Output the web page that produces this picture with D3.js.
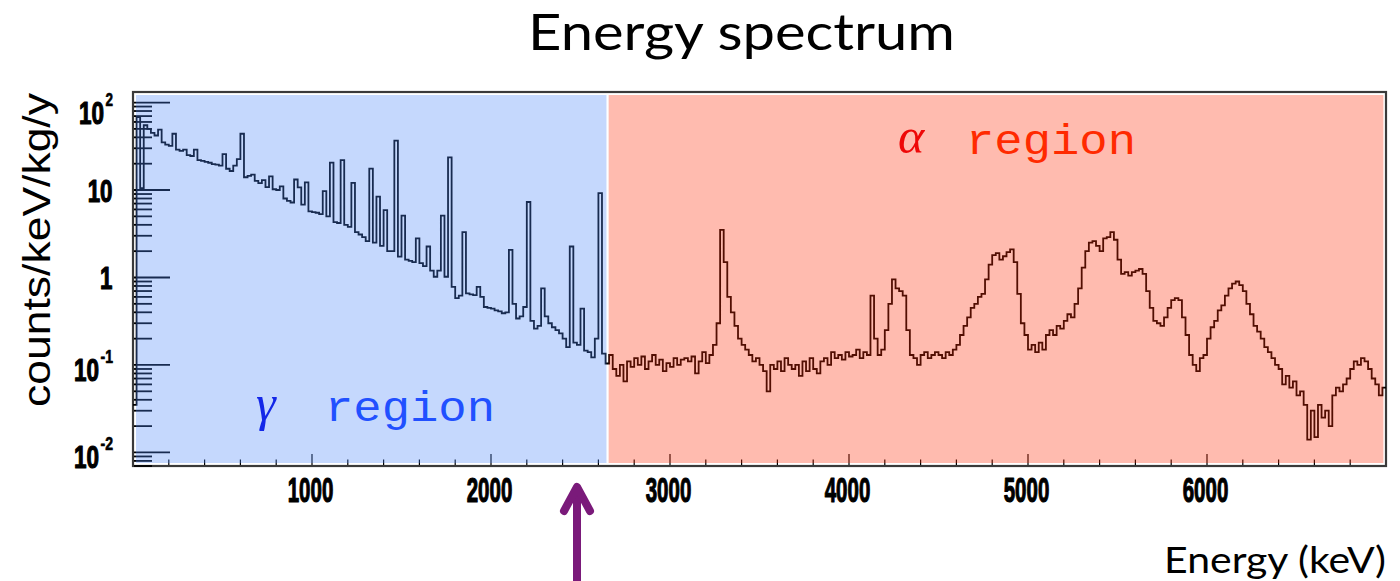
<!DOCTYPE html>
<html>
<head>
<meta charset="utf-8">
<script src="https://cdn.jsdelivr.net/npm/d3@7"></script>
<style>
  html, body { margin: 0; padding: 0; background: #fff; }
  svg { display: block; }
</style>
</head>
<body>
<svg id="chart" width="1400" height="581"></svg>
<script>
// Energy spectrum, counts/keV/kg/y in 20 keV bins.
const binWidth = 20;

// γ region: bins starting at 0 keV
const gammaStart = 0;
const gammaCounts = [
  0.035, 68, 10.5, 55, 50, 45, 42, 49, 35, 33,
  32, 44, 29, 28, 29, 25, 24.5, 29, 22, 21.5,
  21, 20.5, 19.8, 19.5, 19, 25.7, 17.5, 16.5, 19, 22.6,
  44, 14, 14.5, 15, 12.7, 12, 13, 10.8, 14.3, 10.2,
  10, 11, 8, 7.5, 7.2, 13.2, 10.7, 6.8, 12.2, 5.7,
  5.6, 5.5, 5.3, 9.7, 5.0, 20.6, 4.3, 4.2, 22, 4.0,
  3.8, 12.1, 3.3, 3.1, 2.9, 2.6, 17.6, 2.5, 8.4, 2.3,
  5.9, 2.0, 2.0, 36.7, 1.73, 5.1, 1.6, 1.55, 1.5, 2.8,
  1.46, 1.35, 2.26, 1.2, 1.02, 1.2, 5.1, 1.02, 23.6, 0.78,
  0.58, 0.62, 3.3, 0.66, 0.64, 0.63, 0.78, 0.6, 0.46, 0.45,
  0.44, 0.42, 0.41, 0.39, 0.4, 2.07, 0.5, 0.34, 0.36, 0.46,
  7.3, 0.32, 0.26, 0.28, 0.75, 0.36, 0.3, 0.27, 0.25, 0.23,
  0.2, 0.16, 2.26, 0.18, 0.17, 0.44, 0.146, 0.14, 0.122, 0.2,
  9.2, 0.135, 0.104
];

// α region: bins starting at 2660 keV
const alphaStart = 2660;
const alphaCounts = [
  0.13, 0.09, 0.075, 0.1, 0.065, 0.11, 0.095, 0.12, 0.1, 0.125,
  0.09, 0.11, 0.13, 0.1, 0.115, 0.085, 0.105, 0.095, 0.12, 0.1,
  0.115, 0.12, 0.11, 0.125, 0.08, 0.11, 0.14, 0.105, 0.13, 0.17,
  0.3, 3.5, 1.5, 0.6, 0.4, 0.28, 0.2, 0.17, 0.15, 0.13,
  0.11, 0.12, 0.1, 0.085, 0.05, 0.1, 0.09, 0.11, 0.085, 0.12,
  0.1, 0.09, 0.1, 0.075, 0.11, 0.085, 0.12, 0.09, 0.08, 0.11,
  0.12, 0.1, 0.14, 0.12, 0.13, 0.115, 0.14, 0.125, 0.13, 0.15,
  0.12, 0.14, 0.13, 0.62, 0.2, 0.13, 0.15, 0.25, 0.5, 0.95,
  0.75, 0.7, 0.62, 0.25, 0.13, 0.12, 0.1, 0.13, 0.14, 0.12,
  0.13, 0.14, 0.13, 0.12, 0.14, 0.13, 0.15, 0.17, 0.22, 0.28,
  0.35, 0.45, 0.5, 0.6, 0.65, 0.95, 1.4, 1.8, 1.9, 1.6,
  1.75, 1.95, 2.1, 1.5, 0.65, 0.3, 0.22, 0.15, 0.17, 0.14,
  0.18, 0.15, 0.22, 0.25, 0.22, 0.28, 0.26, 0.32, 0.38, 0.35,
  0.5, 0.75, 1.3, 2.0, 2.5, 2.6, 2.3, 2.0, 2.8, 2.9,
  3.3, 2.7, 1.6, 1.1, 1.15, 1.05, 1.15, 1.2, 1.25, 1.1,
  0.7, 0.45, 0.32, 0.3, 0.28, 0.35, 0.45, 0.55, 0.58, 0.55,
  0.35, 0.22, 0.13, 0.1, 0.085, 0.12, 0.13, 0.2, 0.27, 0.32,
  0.42, 0.48, 0.62, 0.75, 0.85, 0.9, 0.82, 0.7, 0.5, 0.38,
  0.28, 0.24, 0.2, 0.16, 0.14, 0.12, 0.1, 0.09, 0.06, 0.075,
  0.055, 0.065, 0.045, 0.05, 0.035, 0.014, 0.03, 0.015, 0.035, 0.025,
  0.03, 0.02, 0.045, 0.055, 0.05, 0.06, 0.07, 0.09, 0.11, 0.1,
  0.12, 0.11, 0.09, 0.07, 0.06, 0.045, 0.055
];

// Region boundaries (keV) and their labels
const regionEdges = [0, 2650, 7000];
const regionSymbols = ["γ", "α"];
const regionWords = ["region", "region"];

// Axes
const energyDomain = [0, 7000];
const countDomain = [0.007, 132];
const xTickLabels = [1000, 2000, 3000, 4000, 5000, 6000];
const yTickLabels = [100, 10, 1, 0.1, 0.01];

// ---------------------------------------------------------------
const svg = d3.select("#chart");
const plot = { left: 133, right: 1386, top: 92, bottom: 466 };

const x = d3.scaleLinear().domain(energyDomain).range([plot.left, plot.right]);
const y = d3.scaleLog().domain(countDomain).range([plot.bottom, plot.top]);

const bins = gammaCounts.map((v, i) => ({ e: gammaStart + i * binWidth, v }))
  .concat(alphaCounts.map((v, i) => ({ e: alphaStart + i * binWidth, v })));
const steps = bins.concat([{ e: energyDomain[1], v: bins[bins.length - 1].v }]);

// Place a text at (px, py) squeezed horizontally to a given width
function condensed(parent, str, px, py, width, opts) {
  const g = parent.append("g");
  const t = g.append("text")
    .attr("text-anchor", opts.anchor || "start")
    .attr("font-family", opts.family)
    .attr("font-weight", opts.weight || "normal")
    .attr("font-size", opts.size)
    .attr("fill", opts.fill || "#000")
    .text(str);
  if (opts.outline) {
    t.attr("stroke", opts.fill || "#000").attr("stroke-width", opts.outline)
      .attr("stroke-linejoin", "round");
  }
  const natural = t.node().getComputedTextLength();
  const sx = width / natural;
  g.attr("transform", `translate(${px},${py}) scale(${sx},1)`);
  return g;
}

svg.append("defs").append("clipPath").attr("id", "plotClip")
  .append("rect")
  .attr("x", plot.left).attr("y", plot.top)
  .attr("width", plot.right - plot.left).attr("height", plot.bottom - plot.top);

// Frame
svg.append("rect")
  .attr("x", plot.left).attr("y", plot.top)
  .attr("width", plot.right - plot.left).attr("height", plot.bottom - plot.top)
  .attr("fill", "#fff").attr("stroke", "#3a3a3a").attr("stroke-width", 2.2);

// Spectrum drawn as a histogram step line
const line = d3.line()
  .x(d => x(d.e))
  .y(d => y(d.v))
  .curve(d3.curveStepAfter);

svg.append("path")
  .datum(steps)
  .attr("clip-path", "url(#plotClip)")
  .attr("d", line)
  .attr("fill", "none")
  .attr("stroke", "#000")
  .attr("stroke-width", 1.8)
  .attr("stroke-linejoin", "miter");

// Y ticks (log decades with 2..9 subdivisions), drawn inside on the left
const yTicks = y.ticks();
const isDecade = t => Math.abs(Math.log10(t) - Math.round(Math.log10(t))) < 1e-6;
svg.append("g").selectAll("line")
  .data(yTicks)
  .join("line")
  .attr("x1", plot.left + 1)
  .attr("x2", t => plot.left + (isDecade(t) ? 37 : 19))
  .attr("y1", t => y(t)).attr("y2", t => y(t))
  .attr("stroke", "#000").attr("stroke-width", 1.8);

// X ticks every 200 keV, longer every 1000 keV
const xTicks = d3.range(200, energyDomain[1], 200);
svg.append("g").selectAll("line")
  .data(xTicks)
  .join("line")
  .attr("x1", t => x(t)).attr("x2", t => x(t))
  .attr("y1", plot.bottom - 1)
  .attr("y2", t => plot.bottom - (t % 1000 === 0 ? 12 : 6.5))
  .attr("stroke", "#000").attr("stroke-width", 1.2);

// Translucent region shading over the histogram
const shades = [
  { c: "rgb(74,133,248)", x0: x(regionEdges[0]) + 3, x1: x(regionEdges[1]) - 0.9 },
  { c: "rgb(255,42,5)",   x0: x(regionEdges[1]) + 1.3, x1: x(regionEdges[2]) - 2.6 }
];
svg.append("g").selectAll("rect")
  .data(shades)
  .join("rect")
  .attr("x", d => d.x0).attr("y", plot.top + 3)
  .attr("width", d => d.x1 - d.x0)
  .attr("height", plot.bottom - plot.top - 6)
  .attr("fill", d => d.c).attr("fill-opacity", 0.32);

// X tick labels
const tickFont = "'Liberation Sans', Arial, sans-serif";
const xLab = svg.append("g");
xTickLabels.forEach(d => {
  condensed(xLab, String(d), x(d) - 1.5, 501.5, String(d).length * 11.4,
    { anchor: "middle", family: tickFont, weight: "bold", size: 35, outline: 1.2 });
});

// Y tick labels: 10^n notation
const yLab = svg.append("g");
const labelRight = 112.5;
yTickLabels.forEach(v => {
  const p = Math.round(Math.log10(v));
  const ty = y(v);
  if (p === 0 || p === 1) {
    const s = p === 0 ? "1" : "10";
    condensed(yLab, s, labelRight, ty + 11.5, s.length * 12.4,
      { anchor: "end", family: tickFont, weight: "bold", size: 31.5, outline: 1.2 });
  } else {
    const sup = String(p);
    const supW = sup.length * 5 + 2.5;
    // keep the whole label below the top of the frame
    const base = Math.max(ty + 16, plot.top + 31.5);
    condensed(yLab, "10", labelRight - supW - 1, base, 25,
      { anchor: "end", family: tickFont, weight: "bold", size: 31.5, outline: 1.2 });
    condensed(yLab, sup, labelRight - supW + 0.5, base - 18, supW,
      { anchor: "start", family: tickFont, weight: "bold", size: 19, outline: 0.7 });
  }
});

// Title and axis titles
condensed(svg, "Energy spectrum", 741.5, 50, 427,
  { anchor: "middle", family: "Lato, 'Open Sans', sans-serif", size: 50 });

condensed(svg, "Energy (keV)", 1386, 573, 222,
  { anchor: "end", family: "Lato, 'Open Sans', sans-serif", size: 36 });

svg.append("g")
  .attr("transform", "translate(50,250) rotate(-90)")
  .call(g => condensed(g, "counts/keV/kg/y", 0, 0, 314,
    { anchor: "middle", family: "'Liberation Sans', Arial, sans-serif", size: 38 }));

// Region labels
const regionLabels = [
  { sym: regionSymbols[0], word: regionWords[0], sx: 256, wx: 325, by: 420, symColor: "#1428e8", wordColor: "#2150ff" },
  { sym: regionSymbols[1], word: regionWords[1], sx: 898, wx: 966, by: 153, symColor: "#ee0808", wordColor: "#ff2a00" }
];
regionLabels.forEach(r => {
  svg.append("text")
    .attr("x", r.sx).attr("y", r.by)
    .attr("font-family", "'Liberation Serif', 'DejaVu Serif', serif")
    .attr("font-style", "italic").attr("font-size", 50)
    .attr("fill", r.symColor)
    .text(r.sym);
  condensed(svg, r.word, r.wx, r.by + 1, 170,
    { family: "'Liberation Mono', 'DejaVu Sans Mono', monospace", size: 42, fill: r.wordColor });
});

// Arrow under the axis near the end of the γ region
const arrow = svg.append("g")
  .attr("stroke", "#7a1a7a").attr("stroke-width", 8)
  .attr("stroke-linecap", "round").attr("stroke-linejoin", "round")
  .attr("fill", "none");
arrow.append("line").attr("x1", 577).attr("y1", 600).attr("x2", 577).attr("y2", 490);
arrow.append("polyline").attr("points", "564,511 577,487 590,511");
</script>
</body>
</html>
